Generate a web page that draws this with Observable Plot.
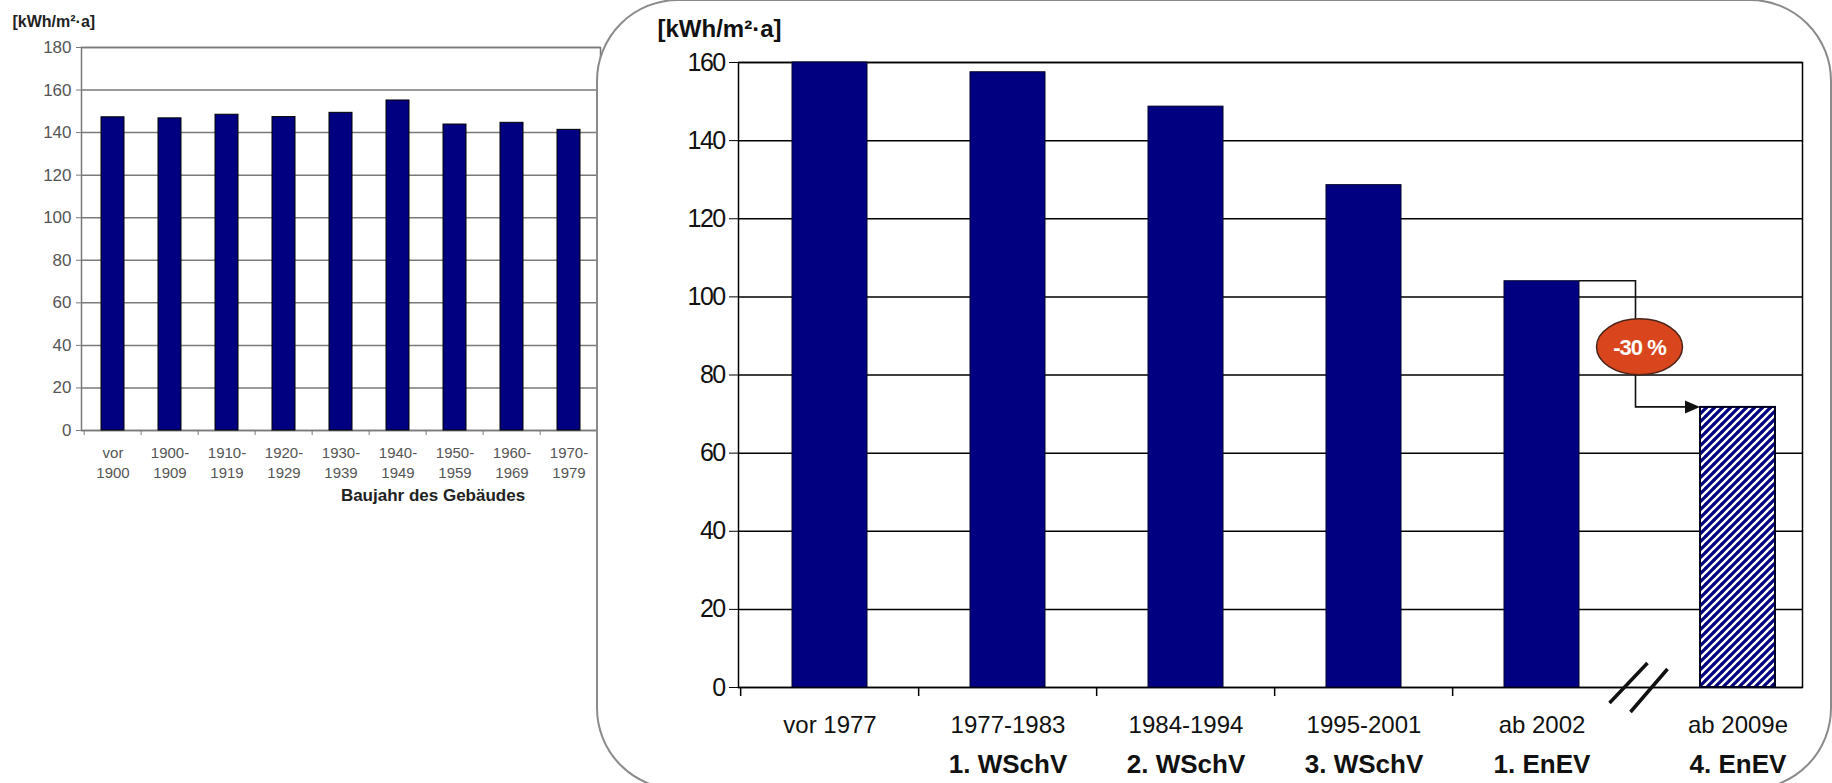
<!DOCTYPE html>
<html>
<head>
<meta charset="utf-8">
<script src="https://cdn.jsdelivr.net/npm/d3@7"></script>
<script src="https://cdn.jsdelivr.net/npm/@observablehq/plot@0.6"></script>
<style>
  html, body { margin: 0; padding: 0; background: #fff; overflow: hidden; }
  #wrap { position: relative; width: 1832px; height: 783px; overflow: hidden; }
  #left, #right { position: absolute; left: 0; top: 0; }
  #box { position: absolute; left: 596px; top: -1px; width: 1232px; height: 787px;
         border: 2.5px solid #8a8a8a; border-radius: 82px; background: #fff; }
  svg { max-width: none !important; }
  g[aria-label="y-axis tick label"].rtick text { letter-spacing: -1.6px; }
  g[aria-label="period label"] text { letter-spacing: 0.6px; }
  g[aria-label="regulation label"] text { letter-spacing: 1.2px; }
</style>
</head>
<body>
<div id="wrap">
  <div id="left"></div>
  <div id="box"></div>
  <div id="right"></div>
</div>
<script>
// ---- Left chart data (Baujahr des Gebäudes) ----
const leftLabelTop = ["vor", "1900-", "1910-", "1920-", "1930-", "1940-", "1950-", "1960-", "1970-"];
const leftLabelBottom = ["1900", "1909", "1919", "1929", "1939", "1949", "1959", "1969", "1979"];
const leftValues = [147.2, 146.7, 148.4, 147.3, 149.3, 155.1, 143.8, 144.6, 141.3];
const leftTicks = [0, 20, 40, 60, 80, 100, 120, 140, 160, 180];
const leftUnit = "[kWh/m²·a]";
const leftAxisTitle = "Baujahr des Gebäudes";

// ---- Right chart data ----
const rightPeriods = ["vor 1977", "1977-1983", "1984-1994", "1995-2001", "ab 2002", "ab 2009e"];
const rightRegulations = ["", "1. WSchV", "2. WSchV", "3. WSchV", "1. EnEV", "4. EnEV"];
const rightValues = [160, 157.5, 148.7, 128.6, 104, 71.7];
const rightEstimated = [false, false, false, false, false, true];
const rightTicks = [0, 20, 40, 60, 80, 100, 120, 140, 160];
const rightUnit = "[kWh/m²·a]";
const reductionLabel = "-30 %";

const NAVY = "#000080";
const SANS = "Liberation Sans, Arial, sans-serif";

// ================= LEFT CHART =================
const leftCats = leftLabelTop.map((t, i) => t + "|" + leftLabelBottom[i]);
const leftData = leftCats.map((c, i) => ({cat: c, value: leftValues[i]}));
const L = {ml: 81, mr: 20, mt: 47, mb: 90, w: 620, h: 520};
const leftStep = (L.w - L.mr - L.ml) / leftCats.length;

const leftPlot = Plot.plot({
  width: L.w, height: L.h,
  marginLeft: L.ml, marginRight: L.mr, marginTop: L.mt, marginBottom: L.mb,
  style: {fontFamily: SANS, background: "transparent", overflow: "visible"},
  x: {domain: leftCats, paddingInner: 0.59, paddingOuter: 0.295, axis: null},
  y: {domain: [0, 180], axis: null},
  marks: [
    Plot.gridY(leftTicks, {stroke: "#7a7a7a", strokeOpacity: 1, strokeWidth: 1.5}),
    Plot.frame({stroke: "#7a7a7a", strokeWidth: 1.5}),
    Plot.barY(leftData, {x: "cat", y: "value", fill: NAVY, stroke: "#000", strokeWidth: 1}),
    Plot.axisY(leftTicks, {tickSize: 5, tickPadding: 5, fontSize: 17, stroke: "#7a7a7a", fill: "#555", label: null}),
    Plot.axisX({tickSize: 5, tickFormat: () => "", dx: -leftStep / 2, stroke: "#7a7a7a", label: null}),
    Plot.axisX({tickSize: 0, tickPadding: 14, fontSize: 15, fill: "#555", lineHeight: 1.3,
      tickFormat: d => d.replace("|", "\n"), label: null}),
    Plot.text([leftAxisTitle], {frameAnchor: "bottom", lineAnchor: "middle", dy: 65, dx: 92, fontWeight: "bold", fontSize: 17, fill: "#222"}),
    Plot.text([leftUnit], {frameAnchor: "top-left", lineAnchor: "middle", dx: -69, dy: -26, textAnchor: "start", fontWeight: "bold", fontSize: 16, fill: "#222"})
  ]
});
document.getElementById("left").appendChild(leftPlot);

// ================= RIGHT CHART =================
const rightData = rightPeriods.map((p, i) => ({period: p, reg: rightRegulations[i], value: rightValues[i], est: rightEstimated[i]}));
const mainData = rightData.filter(d => !d.est);
const estData = rightData.filter(d => d.est);
const R = {ml: 738, mr: 30, mt: 62, mb: 96, w: 1832, h: 783};
const rightStep = 178.7;
const rightRange = [R.ml, R.ml + rightStep * rightPeriods.length];
const estShift = 18;

function annotation(index, scales) {
  const x = scales.x, y = scales.y;
  const bw = typeof x.bandwidth === "function" ? x.bandwidth() : (x.bandwidth ?? rightStep * 0.42);
  const step = typeof x.step === "function" ? x.step() : (x.step ?? rightStep);
  const from = rightData[4], to = rightData[5];
  const xFromRight = x(from.period) + bw;
  const xBoundary = x(to.period) - (step - bw) / 2;
  const xv = xBoundary + 5;
  const xTo = x(to.period) + estShift;
  const yFrom = y(from.value), yTo = y(to.value);
  const y0 = y(0);
  const g = d3.create("svg:g");
  g.append("path")
    .attr("d", `M${xFromRight},${yFrom}H${xv}V${yTo}H${xTo - 14}`)
    .attr("fill", "none").attr("stroke", "#111").attr("stroke-width", 1.6);
  g.append("path")
    .attr("d", `M${xTo},${yTo}L${xTo - 15},${yTo - 6.5}L${xTo - 15},${yTo + 6.5}Z`)
    .attr("fill", "#111");
  const yc = (yFrom + yTo) / 2 + 3;
  g.append("ellipse").attr("cx", xv + 4).attr("cy", yc).attr("rx", 43).attr("ry", 28)
    .attr("fill", "#d9461d").attr("stroke", "#4a2418").attr("stroke-width", 1.5);
  g.append("text").attr("x", xv + 4).attr("y", yc).attr("dy", "0.36em")
    .attr("text-anchor", "middle").attr("fill", "#fff").attr("font-weight", "bold")
    .attr("font-family", SANS).attr("font-size", 22).attr("letter-spacing", "-1px").text(reductionLabel);
  g.append("path")
    .attr("d", `M${xBoundary - 21},${y0 + 16}L${xBoundary + 17},${y0 - 24}M${xBoundary},${y0 + 25}L${xBoundary + 37},${y0 - 18}`)
    .attr("stroke", "#111").attr("stroke-width", 3.5).attr("fill", "none");
  return g.node();
}

const rightPlot = Plot.plot({
  width: R.w, height: R.h,
  marginLeft: R.ml, marginRight: R.mr, marginTop: R.mt, marginBottom: R.mb,
  style: {fontFamily: SANS, background: "transparent", overflow: "visible"},
  x: {domain: rightPeriods, range: rightRange, paddingInner: 0.58, paddingOuter: 0.29, axis: null},
  y: {domain: [0, 160], axis: null},
  marks: [
    Plot.gridY(rightTicks, {stroke: "#000", strokeOpacity: 1, strokeWidth: 1.5}),
    Plot.frame({stroke: "#000", strokeWidth: 1.5}),
    Plot.barY(mainData, {x: "period", y: "value", fill: NAVY, stroke: "#000028", strokeWidth: 1}),
    Plot.barY(estData, {x: "period", y: "value", dx: estShift, fill: "url(#hatch)", stroke: "#000020", strokeWidth: 2}),
    Plot.axisY(rightTicks, {tickSize: 9, tickPadding: 5, fontSize: 25, stroke: "#000", fill: "#111", label: null}),
    Plot.axisX(mainData.map(d => d.period), {tickSize: 9, tickFormat: () => "", dx: -rightStep / 2, stroke: "#000", strokeWidth: 1.5, label: null}),
    Plot.text(mainData, {x: "period", text: "period", frameAnchor: "bottom", lineAnchor: "middle", dy: 38, fontSize: 24, fill: "#111", ariaLabel: "period label"}),
    Plot.text(estData, {x: "period", text: "period", frameAnchor: "bottom", lineAnchor: "middle", dx: estShift, dy: 38, fontSize: 24, fill: "#111", ariaLabel: "period label"}),
    Plot.text(mainData, {x: "period", text: "reg", frameAnchor: "bottom", lineAnchor: "middle", dy: 77, fontSize: 26, fontWeight: "bold", fill: "#111", ariaLabel: "regulation label"}),
    Plot.text(estData, {x: "period", text: "reg", frameAnchor: "bottom", lineAnchor: "middle", dx: estShift, dy: 77, fontSize: 26, fontWeight: "bold", fill: "#111", ariaLabel: "regulation label"}),
    Plot.text([rightUnit], {frameAnchor: "top-left", lineAnchor: "middle", dx: -81, dy: -33, textAnchor: "start", fontWeight: "bold", fontSize: 24, fill: "#111"}),
    annotation
  ]
});
d3.select(rightPlot).selectAll('g[aria-label="y-axis tick label"]').classed("rtick", true);
const defs = d3.select(rightPlot).insert("defs", ":first-child");
const pat = defs.append("pattern").attr("id", "hatch").attr("patternUnits", "userSpaceOnUse")
  .attr("width", 8).attr("height", 8);
pat.append("rect").attr("width", 8).attr("height", 8).attr("fill", "#fff");
pat.append("path").attr("d", "M-1,1L1,-1M0,8L8,0M7,9L9,7").attr("stroke", NAVY).attr("stroke-width", 3.2);
document.getElementById("right").appendChild(rightPlot);
</script>
</body>
</html>
